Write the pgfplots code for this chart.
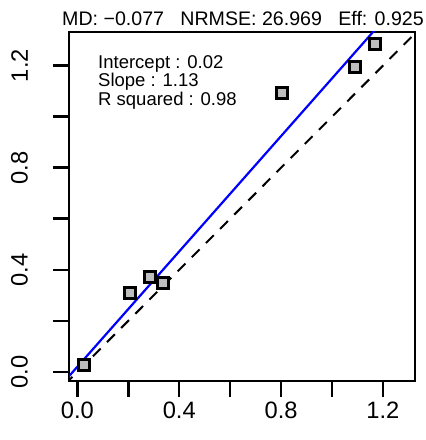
\documentclass[border=0pt]{standalone}
\usepackage{fontspec}
\setmainfont{Liberation Sans}
\usepackage{pgfplots}
\pgfplotsset{compat=1.18}
\definecolor{markfill}{HTML}{BEBEBE}
\begin{document}
\begin{tikzpicture}[x=1pt,y=1pt]
\begin{axis}[
  at={(69pt,59pt)}, anchor=south west,
  width=346pt, height=349pt, scale only axis,
  xmin=-0.033, xmax=1.326, ymin=-0.036, ymax=1.332,
  axis line style={line width=2.5pt},
  tick pos=left, tick align=outside,
  major tick length=16pt,
  every tick/.style={black, line width=2.5pt},
  xtick={0,0.2,0.4,0.6,0.8,1.0,1.2},
  ytick={0,0.2,0.4,0.6,0.8,1.0,1.2},
  xticklabels={0.0,,0.4,,0.8,,1.2},
  yticklabels={0.0,,0.4,,0.8,,1.2},
  ticklabel style={font=\fontsize{23.7}{28}\selectfont},
  xticklabel style={anchor=north, inner sep=0pt, yshift=-5pt},
  yticklabel style={rotate=90, anchor=south, inner sep=0pt, yshift=25pt},
]
% observed vs. simulated values
\addplot[only marks, mark=square*, mark size=5.5pt,
  mark options={draw=black, fill=markfill, line width=3pt}]
  coordinates {
    (0.026,0.026) (0.207,0.308) (0.285,0.371) (0.338,0.347)
    (0.802,1.093) (1.092,1.193) (1.170,1.285)
  };
% 1:1 reference line
\addplot[black, line width=2pt, dash pattern=on 11pt off 9pt]
  coordinates {(-0.05,-0.05) (1.35,1.35)};
% fitted regression line: intercept 0.02, slope 1.13
\addplot[blue, line width=2.2pt]
  coordinates {(-0.05,-0.0365) (1.35,1.5455)};
\node[anchor=base west, font=\fontsize{18.5}{18.5}\selectfont, inner sep=0pt]
  at (axis cs:0.081,1.188) {Intercept : 0.02};
\node[anchor=base west, font=\fontsize{18.5}{18.5}\selectfont, inner sep=0pt]
  at (axis cs:0.081,1.117) {Slope : 1.13};
\node[anchor=base west, font=\fontsize{18.5}{18.5}\selectfont, inner sep=0pt]
  at (axis cs:0.081,1.042) {R squared : 0.98};
\end{axis}
\node[anchor=base, font=\fontsize{19.6}{24}\selectfont, inner sep=0pt]
  at (243,414) {MD: −0.077\ \ \ NRMSE: 26.969\ \ \ Eff: 0.925};
\pgfresetboundingbox
\path (0,0) rectangle (426,440);
\end{tikzpicture}
\end{document}
